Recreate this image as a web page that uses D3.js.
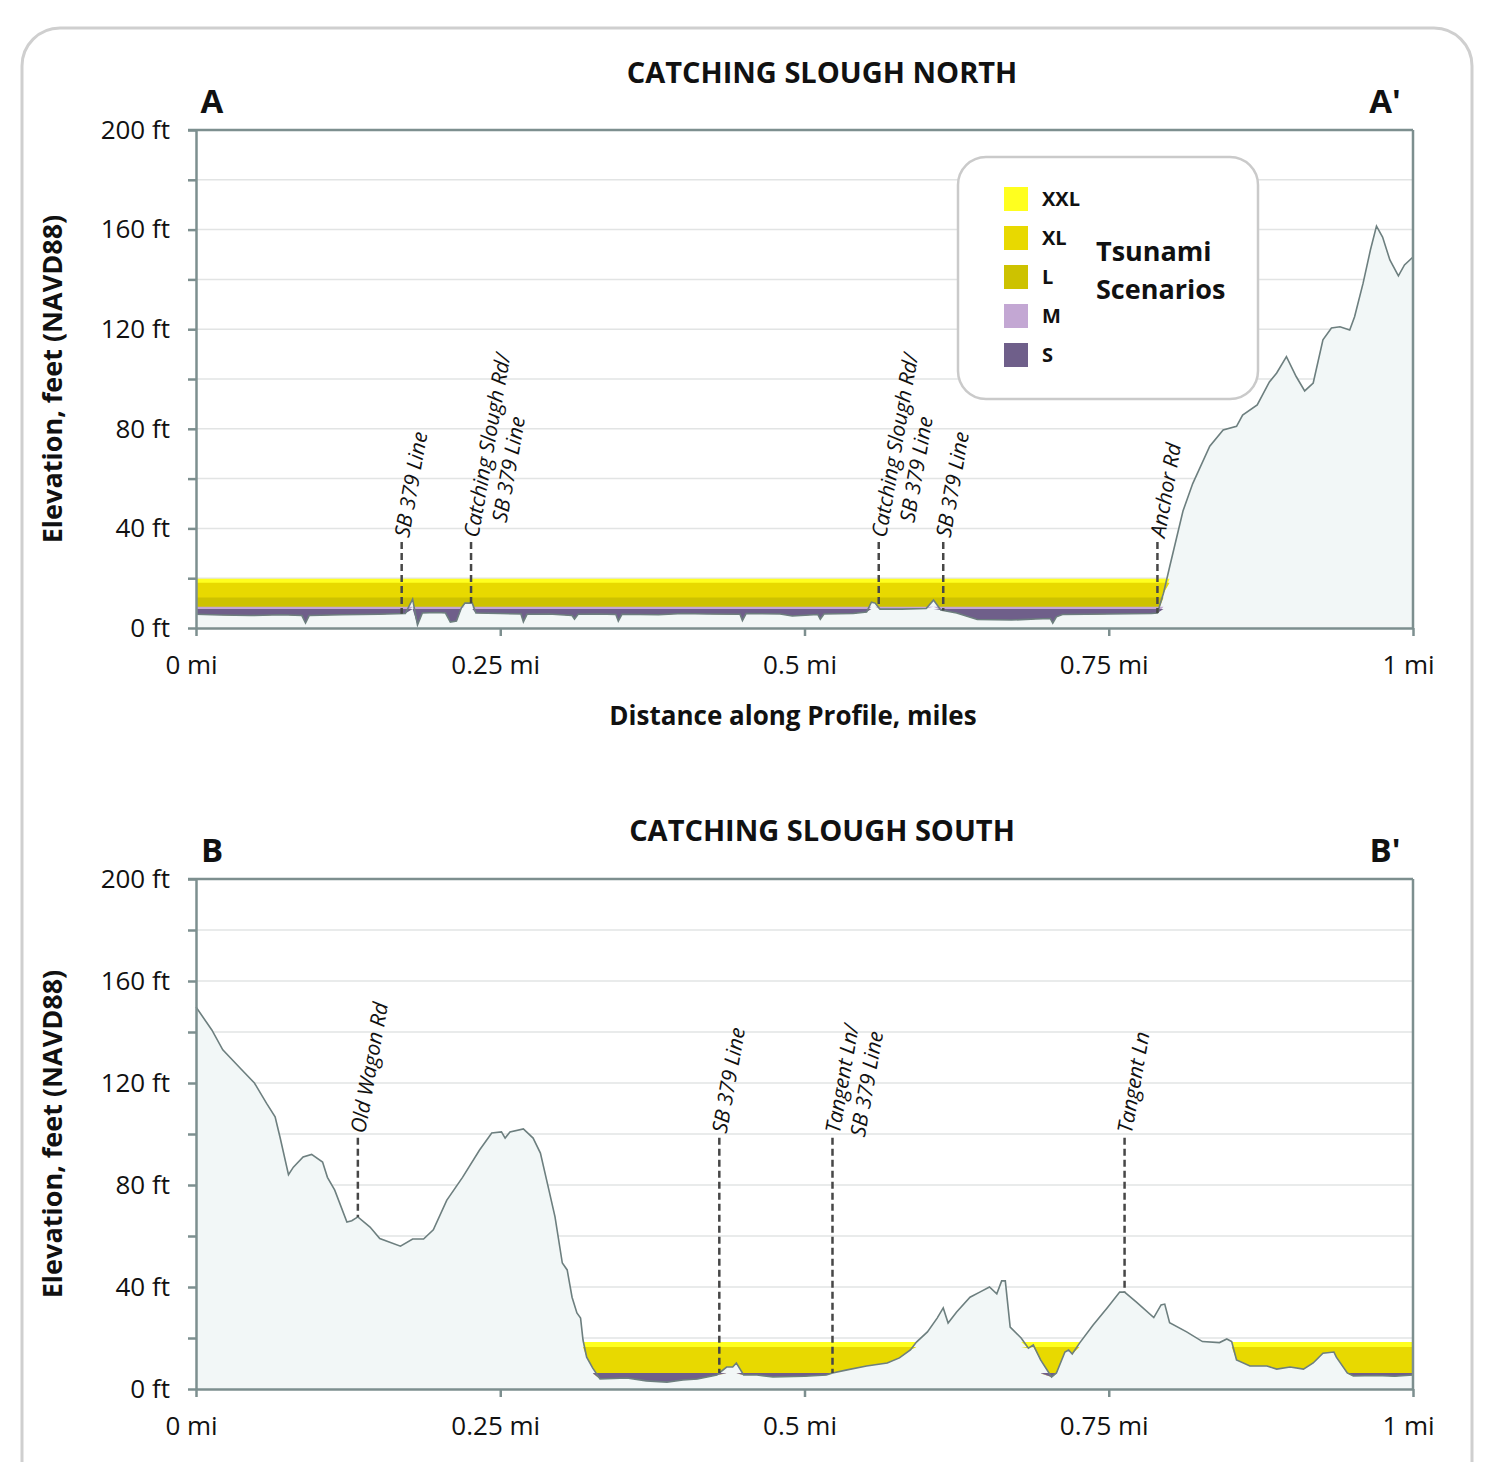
<!DOCTYPE html>
<html>
<head>
<meta charset="utf-8">
<script src="https://cdn.jsdelivr.net/npm/d3@7"></script>
<style>
  body { margin: 0; background: #fff; }
  text { font-family: "Open Sans", sans-serif; fill: #111; }
</style>
</head>
<body>
<svg id="chart" width="1504" height="1462"></svg>
<script>
// ---- data ----
const scenarios = ["XXL", "XL", "L", "M", "S"];
const scenarioColors = ["#ffff1f", "#e8d900", "#cdc200", "#c3a7d3", "#6f5f8a"];

const elevTicks = [0, 20, 40, 60, 80, 100, 120, 140, 160, 180, 200];
const distTicks = [0, 0.25, 0.5, 0.75, 1];
const distTickLabels = ["0 mi", "0.25 mi", "0.5 mi", "0.75 mi", "1 mi"];

// Catching Slough North profile (miles, feet)
const northDist = [0, 0.02, 0.045, 0.07, 0.087, 0.09, 0.093, 0.12, 0.15, 0.172, 0.178, 0.182, 0.186, 0.198, 0.205,
  0.209, 0.214, 0.218, 0.221, 0.227, 0.23, 0.25, 0.267, 0.269, 0.272, 0.29, 0.309, 0.311, 0.314, 0.33, 0.345, 0.347,
  0.35, 0.38, 0.4, 0.42, 0.447, 0.449, 0.452, 0.48, 0.49, 0.511, 0.513, 0.516, 0.54, 0.551, 0.555, 0.558, 0.562,
  0.58, 0.6, 0.606, 0.612, 0.625, 0.642, 0.67, 0.69, 0.702, 0.704, 0.707, 0.712, 0.75, 0.785, 0.79, 0.795, 0.8,
  0.811, 0.819, 0.833, 0.844, 0.855, 0.86, 0.872, 0.882, 0.888, 0.896, 0.904, 0.911, 0.918, 0.926, 0.933, 0.94,
  0.948, 0.952, 0.959, 0.965, 0.97, 0.975, 0.981, 0.988, 0.993, 1];
const northElev = [5.5, 5.2, 5.0, 5.3, 5.0, 2.0, 5.0, 5.3, 5.5, 5.8, 11.6, 1.2, 6.0, 6.2, 6.0,
  2.4, 2.8, 8.0, 10.0, 10.0, 6.0, 5.8, 5.6, 2.5, 5.5, 5.6, 5.0, 3.6, 5.5, 5.6, 5.4, 2.8,
  5.5, 5.3, 5.8, 5.6, 5.5, 3.0, 5.8, 5.6, 4.8, 5.4, 3.5, 5.6, 5.8, 6.4, 10.4, 10.0, 7.6,
  7.6, 7.8, 11.2, 7.2, 6.0, 3.4, 3.2, 3.6, 3.8, 2.0, 4.5, 5.4, 5.6, 5.8, 6.0, 14, 24.5,
  47, 58, 73, 79.5, 81, 85.5, 89.6, 98.8, 102.4, 109, 101, 95.2, 98.4, 115.7, 120.5, 121,
  119.7, 125, 138.5, 151.8, 161.4, 157, 147.8, 141.4, 145.8, 149];
const northLevels = [19.8, 18.2, 12.2, 8.5, 7.6];
const northFlooded = [[0, 0.8]];
const northMarkerDist = [0.169, 0.226, 0.561, 0.614, 0.79];
const northMarkerText = [["SB 379 Line"], ["Catching Slough Rd/", "SB 379 Line"],
  ["Catching Slough Rd/", "SB 379 Line"], ["SB 379 Line"], ["Anchor Rd"]];

// Catching Slough South profile (miles, feet)
const southDist = [0, 0.013, 0.022, 0.036, 0.048, 0.058, 0.065, 0.069, 0.076, 0.08, 0.088, 0.095, 0.104, 0.108,
  0.114, 0.124, 0.128, 0.133, 0.143, 0.151, 0.168, 0.178, 0.187, 0.195, 0.206, 0.219, 0.233, 0.243, 0.251, 0.254,
  0.258, 0.269, 0.277, 0.283, 0.29, 0.295, 0.301, 0.305, 0.309, 0.313, 0.316, 0.318, 0.321, 0.326, 0.332, 0.354,
  0.37, 0.387, 0.4, 0.412, 0.428, 0.436, 0.441, 0.444, 0.45, 0.461, 0.474, 0.5, 0.518, 0.523, 0.535, 0.551, 0.568,
  0.578, 0.587, 0.592, 0.601, 0.609, 0.614, 0.618, 0.625, 0.636, 0.644, 0.652, 0.658, 0.662, 0.665, 0.669, 0.678,
  0.684, 0.688, 0.694, 0.703, 0.707, 0.714, 0.717, 0.72, 0.726, 0.737, 0.749, 0.759, 0.763, 0.773, 0.787, 0.793,
  0.796, 0.8, 0.814, 0.827, 0.841, 0.847, 0.851, 0.855, 0.866, 0.88, 0.888, 0.899, 0.91, 0.918, 0.926, 0.935,
  0.937, 0.946, 0.951, 0.97, 0.985, 1];
const southElev = [149.8, 140.8, 133, 126, 120, 112, 106.7, 98.8, 84, 87, 91, 92, 89, 83,
  78, 65.5, 66, 67.5, 63.5, 59, 56, 58.8, 58.8, 62.4, 74, 83, 93.7, 100.4, 100.8, 98.4,
  100.8, 102, 98.4, 92.5, 78, 67.5, 49.4, 46.7, 36, 29.8, 27.8, 19.2, 12.5, 8.2, 3.9, 4.3,
  3.2, 2.7, 3.5, 3.9, 5.5, 8.6, 8.6, 10.2, 5.5, 5.5, 4.7, 5.0, 5.5, 6.3, 7.5, 9, 10.2,
  12.2, 15.3, 18.4, 22.4, 27.8, 31.8, 25.9, 30.2, 36, 38, 40, 37.3, 42.4, 42.4, 24.3, 20,
  16, 17.3, 11.4, 4.7, 6.3, 14.5, 15.3, 13.7, 18, 25, 32, 38, 38, 34, 28, 33,
  33.3, 26, 22.4, 18.6, 18.2, 19.6, 18.6, 11.4, 9, 9, 7.8, 8.6, 7.8, 10.2, 14, 14.5,
  12.5, 6.3, 5.1, 5.3, 5.0, 5.5];
const southLevels = [18.4, 16.5, 6.1, 6.2, 6.3];
const southFlooded = [[0.3, 0.6], [0.664, 0.726], [0.851, 1]];
const southMarkerDist = [0.133, 0.43, 0.523, 0.763];
const southMarkerText = [["Old Wagon Rd"], ["SB 379 Line"], ["Tangent Ln/", "SB 379 Line"], ["Tangent Ln"]];

// ---- drawing ----
const svg = d3.select("#chart");
const axisColor = "#7d8f8f";
const x = d3.scaleLinear().domain([0, 1]).range([196, 1413]);

// outer rounded frame
svg.append("rect")
    .attr("x", 22).attr("y", 28).attr("width", 1450).attr("height", 1520)
    .attr("rx", 38)
    .style("fill", "none").style("stroke", "#cfcfcf").style("stroke-width", 3);

function elevAt(dist, elev, d) {
    const i = d3.bisectLeft(dist, d);
    if (i <= 0) return elev[0];
    if (i >= dist.length) return elev[elev.length - 1];
    const t = (d - dist[i - 1]) / (dist[i] - dist[i - 1]);
    return elev[i - 1] + t * (elev[i] - elev[i - 1]);
}

function drawProfile(cfg) {
    const y = d3.scaleLinear().domain([0, 200]).range([cfg.bottom, cfg.top]);
    const g = svg.append("g");
    const pts = d3.zip(cfg.dist, cfg.elev);

    // grid lines
    g.selectAll(".grid")
        .data(elevTicks.filter(v => v > 0 && v < 200))
        .enter().append("line")
        .attr("x1", x(0)).attr("x2", x(1))
        .attr("y1", d => y(d)).attr("y2", d => y(d))
        .style("stroke", "#e2e4e4").style("stroke-width", 1.5);

    // terrain fill
    g.append("path")
        .datum(pts)
        .attr("d", d3.area().x(d => x(d[0])).y0(y(0)).y1(d => y(d[1])))
        .style("fill", "#f2f7f7");

    // inundation bands, largest scenario first
    scenarios.forEach((s, i) => {
        const level = cfg.levels[i];
        cfg.flooded.forEach(seg => {
            const sub = pts.filter(p => p[0] >= seg[0] && p[0] <= seg[1]);
            g.append("path")
                .datum(sub)
                .attr("d", d3.area()
                    .x(d => x(d[0]))
                    .y0(d => y(Math.min(d[1], level)))
                    .y1(y(level)))
                .style("fill", scenarioColors[i]);
        });
    });

    // terrain line
    g.append("path")
        .datum(pts)
        .attr("d", d3.line().x(d => x(d[0])).y(d => y(d[1])))
        .style("fill", "none").style("stroke", "#6d7f7f").style("stroke-width", 1.6);

    // frame: top and right
    g.append("line").attr("x1", x(0) - 8).attr("x2", x(1)).attr("y1", y(200)).attr("y2", y(200))
        .style("stroke", axisColor).style("stroke-width", 2.5);
    g.append("line").attr("x1", x(1)).attr("x2", x(1)).attr("y1", y(200)).attr("y2", y(0))
        .style("stroke", axisColor).style("stroke-width", 2.5);

    // axes
    const yAxis = g.append("g")
        .attr("transform", `translate(${x(0)},0)`)
        .call(d3.axisLeft(y).tickValues(elevTicks).tickSize(8).tickSizeOuter(0).tickPadding(18)
            .tickFormat(v => v % 40 === 0 ? v + " ft" : ""));
    const xAxis = g.append("g")
        .attr("transform", `translate(0,${y(0)})`)
        .call(d3.axisBottom(x).tickValues(distTicks).tickSize(8).tickSizeOuter(0).tickPadding(20)
            .tickFormat((d, i) => distTickLabels[i]));
    [yAxis, xAxis].forEach(a => {
        a.select(".domain").style("stroke", axisColor).style("stroke-width", 2.5);
        a.selectAll(".tick line").style("stroke", axisColor).style("stroke-width", 2.5);
        a.selectAll(".tick text").style("font-size", "26px").style("font-family", "Open Sans").style("fill", "#111");
    });
    xAxis.selectAll(".tick text").attr("dx", -5);

    // road markers
    const yLabel = y(cfg.labelElev);
    cfg.markerDist.forEach((d, i) => {
        const ground = elevAt(cfg.dist, cfg.elev, d);
        g.append("line")
            .attr("x1", x(d)).attr("x2", x(d))
            .attr("y1", yLabel).attr("y2", y(ground))
            .style("stroke", "#474747").style("stroke-width", 2.5).style("stroke-dasharray", "7,4");
        const lines = cfg.markerText[i];
        const t = g.append("g")
            .attr("transform", `translate(${x(d)},${yLabel - 5}) rotate(-80)`);
        const first = t.append("text")
            .attr("x", 0).attr("dy", "0.35em")
            .style("font-size", "21px").style("font-style", "italic")
            .text(lines[0]);
        if (lines.length > 1) {
            const second = t.append("text")
                .attr("dy", "1.55em")
                .style("font-size", "21px").style("font-style", "italic")
                .text(lines[1]);
            const len1 = first.node().getComputedTextLength();
            const len2 = second.node().getComputedTextLength();
            second.attr("x", (len1 - len2) / 4);
        }
    });

    // titles
    g.append("text").attr("x", 822).attr("y", cfg.titleY)
        .attr("text-anchor", "middle")
        .style("font-size", "29px").style("font-weight", "bold")
        .text(cfg.title);
    g.append("text").attr("x", 212).attr("y", cfg.top - 17)
        .attr("text-anchor", "middle")
        .style("font-size", "33px").style("font-weight", "bold")
        .text(cfg.leftTag);
    g.append("text").attr("x", 1385).attr("y", cfg.top - 17)
        .attr("text-anchor", "middle")
        .style("font-size", "33px").style("font-weight", "bold")
        .text(cfg.rightTag);
    g.append("text")
        .attr("transform", `translate(62,${(cfg.top + cfg.bottom) / 2}) rotate(-90)`)
        .attr("text-anchor", "middle")
        .style("font-size", "27px").style("font-weight", "bold")
        .text("Elevation, feet (NAVD88)");
    if (cfg.xTitle) {
        g.append("text").attr("x", 793).attr("y", cfg.bottom + 97)
            .attr("text-anchor", "middle")
            .style("font-size", "26px").style("font-weight", "bold")
            .text("Distance along Profile, miles");
    }
    return g;
}

const north = drawProfile({
    title: "CATCHING SLOUGH NORTH", leftTag: "A", rightTag: "A'",
    top: 130, bottom: 628, titleY: 83,
    dist: northDist, elev: northElev, levels: northLevels, flooded: northFlooded,
    markerDist: northMarkerDist, markerText: northMarkerText, labelElev: 34.5, xTitle: true
});
drawProfile({
    title: "CATCHING SLOUGH SOUTH", leftTag: "B", rightTag: "B'",
    top: 879, bottom: 1389, titleY: 841,
    dist: southDist, elev: southElev, levels: southLevels, flooded: southFlooded,
    markerDist: southMarkerDist, markerText: southMarkerText, labelElev: 98.5, xTitle: false
});

// legend
const legend = north.append("g");
legend.append("rect")
    .attr("x", 958).attr("y", 157).attr("width", 300).attr("height", 242).attr("rx", 28)
    .style("fill", "#fff").style("stroke", "#cacaca").style("stroke-width", 2.5);
const item = legend.selectAll(".item")
    .data(scenarios)
    .enter().append("g")
    .attr("transform", (d, i) => `translate(1004,${199 + i * 39})`);
item.append("rect")
    .attr("x", 0).attr("y", -12).attr("width", 24).attr("height", 24)
    .style("fill", (d, i) => scenarioColors[i]);
item.append("text")
    .attr("x", 38).attr("dy", "0.36em")
    .style("font-size", "20px").style("font-weight", "bold")
    .text(d => d);
legend.append("text").attr("x", 1096).attr("y", 261)
    .style("font-size", "27px").style("font-weight", "bold").text("Tsunami");
legend.append("text").attr("x", 1096).attr("y", 299)
    .style("font-size", "27px").style("font-weight", "bold").text("Scenarios");
</script>
</body>
</html>
